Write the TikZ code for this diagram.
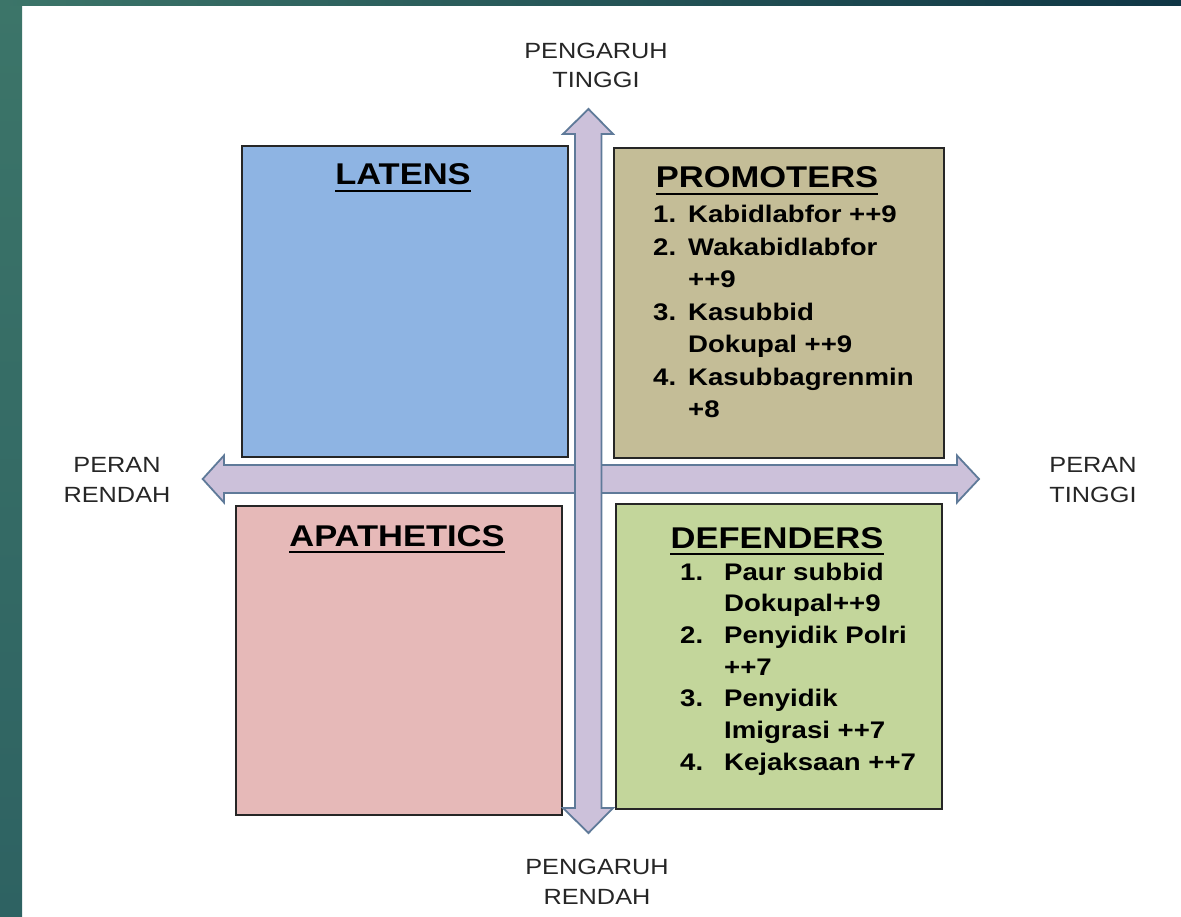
\documentclass[tikz,border=0pt]{standalone}
\usepackage{fontspec}
\setmainfont{Liberation Sans}[FakeStretch=1.15]
\usetikzlibrary{calc}
\definecolor{tealA}{HTML}{3C7569}
\definecolor{tealB}{HTML}{2E6262}
\definecolor{tealC}{HTML}{0F3645}
\definecolor{arrowfill}{HTML}{CCC1DA}
\definecolor{arrowline}{HTML}{5F7A99}
\definecolor{latfill}{HTML}{8EB4E3}
\definecolor{profill}{HTML}{C4BD97}
\definecolor{apafill}{HTML}{E6B9B8}
\definecolor{deffill}{HTML}{C3D69B}
\tikzset{
  quad/.style={draw=black!85, line width=1.6pt, inner sep=0pt},
  axislabel/.style={align=center, inner sep=0pt, font=\fontsize{22}{29.5}\selectfont, text=black!85},
  quadtitle/.style={inner sep=0pt, font=\bfseries\fontsize{30}{36}\selectfont},
  itemlist/.style={inner sep=0pt, anchor=base west, font=\bfseries\fontsize{24}{32.5}\selectfont},
  bigarrow/.style={fill=arrowfill, draw=arrowline, line width=1.8pt, line join=miter}
}
\begin{document}
\begin{tikzpicture}[x=1pt,y=-1pt]
\useasboundingbox (0,0) rectangle (1181,917);
\fill[white] (0,0) rectangle (1181,917);
% background strips
\shade[top color=tealA, bottom color=tealB] (0,0) rectangle (22,917);
\shade[left color=tealA, right color=tealC] (0,0) rectangle (1181,6);
% quadrant boxes
\node[quad, fill=latfill, minimum width=326pt, minimum height=311pt, anchor=north west] (lat) at (241,145) {};
\node[quad, fill=profill, minimum width=330pt, minimum height=310pt, anchor=north west] (pro) at (613,147) {};
\node[quad, fill=apafill, minimum width=326pt, minimum height=309pt, anchor=north west] (apa) at (235,505) {};
\node[quad, fill=deffill, minimum width=326pt, minimum height=305pt, anchor=north west] (def) at (615,503) {};
% horizontal double arrow
\draw[bigarrow] (202.7,479) -- (224,455.5) -- (224,465) -- (957,465) -- (957,455.5) -- (979,479)
  -- (957,502.5) -- (957,493) -- (224,493) -- (224,502.5) -- cycle;
% vertical double arrow
\draw[bigarrow] (588.5,109) -- (613,134) -- (601.5,134) -- (601.5,808) -- (613,808) -- (588.5,833)
  -- (563,808) -- (575,808) -- (575,134) -- (563,134) -- cycle;
% axis labels (base = baseline of the last line)
\node[axislabel, anchor=base] (top) at (596,88) {PENGARUH\\TINGGI};
\node[axislabel, anchor=base] (bottom) at (597,904) {PENGARUH\\RENDAH};
\node[axislabel, anchor=base] (left) at (117,502) {PERAN\\RENDAH};
\node[axislabel, anchor=base] (right) at (1093,502) {PERAN\\TINGGI};
% titles
\node[quadtitle, anchor=base] (latT) at (403,185) {LATENS};
\node[quadtitle, anchor=base] (proT) at (767,188) {PROMOTERS};
\node[quadtitle, anchor=base] (apaT) at (397,546) {APATHETICS};
\node[quadtitle, anchor=base] (defT) at (777,548) {DEFENDERS};
\foreach \t in {latT,proT,apaT,defT}{
  \draw[line width=2.4pt] ($(\t.base west)+(0,6)$) -- ($(\t.base east)+(0,6)$);
}
% lists
\node[itemlist] (proL) at (653,223) {\begin{tabular}[t]{@{}p{35pt}@{}l@{}}
1. & Kabidlabfor ++9\\
2. & Wakabidlabfor\\
 & ++9\\
3. & Kasubbid\\
 & Dokupal ++9\\
4. & Kasubbagrenmin\\
 & +8
\end{tabular}};
\node[itemlist, font=\bfseries\fontsize{24}{31.7}\selectfont] (defL) at (680,580) {\begin{tabular}[t]{@{}p{44pt}@{}l@{}}
1. & Paur subbid\\
 & Dokupal++9\\
2. & Penyidik Polri\\
 & ++7\\
3. & Penyidik\\
 & Imigrasi ++7\\
4. & Kejaksaan ++7
\end{tabular}};
\end{tikzpicture}
\end{document}
